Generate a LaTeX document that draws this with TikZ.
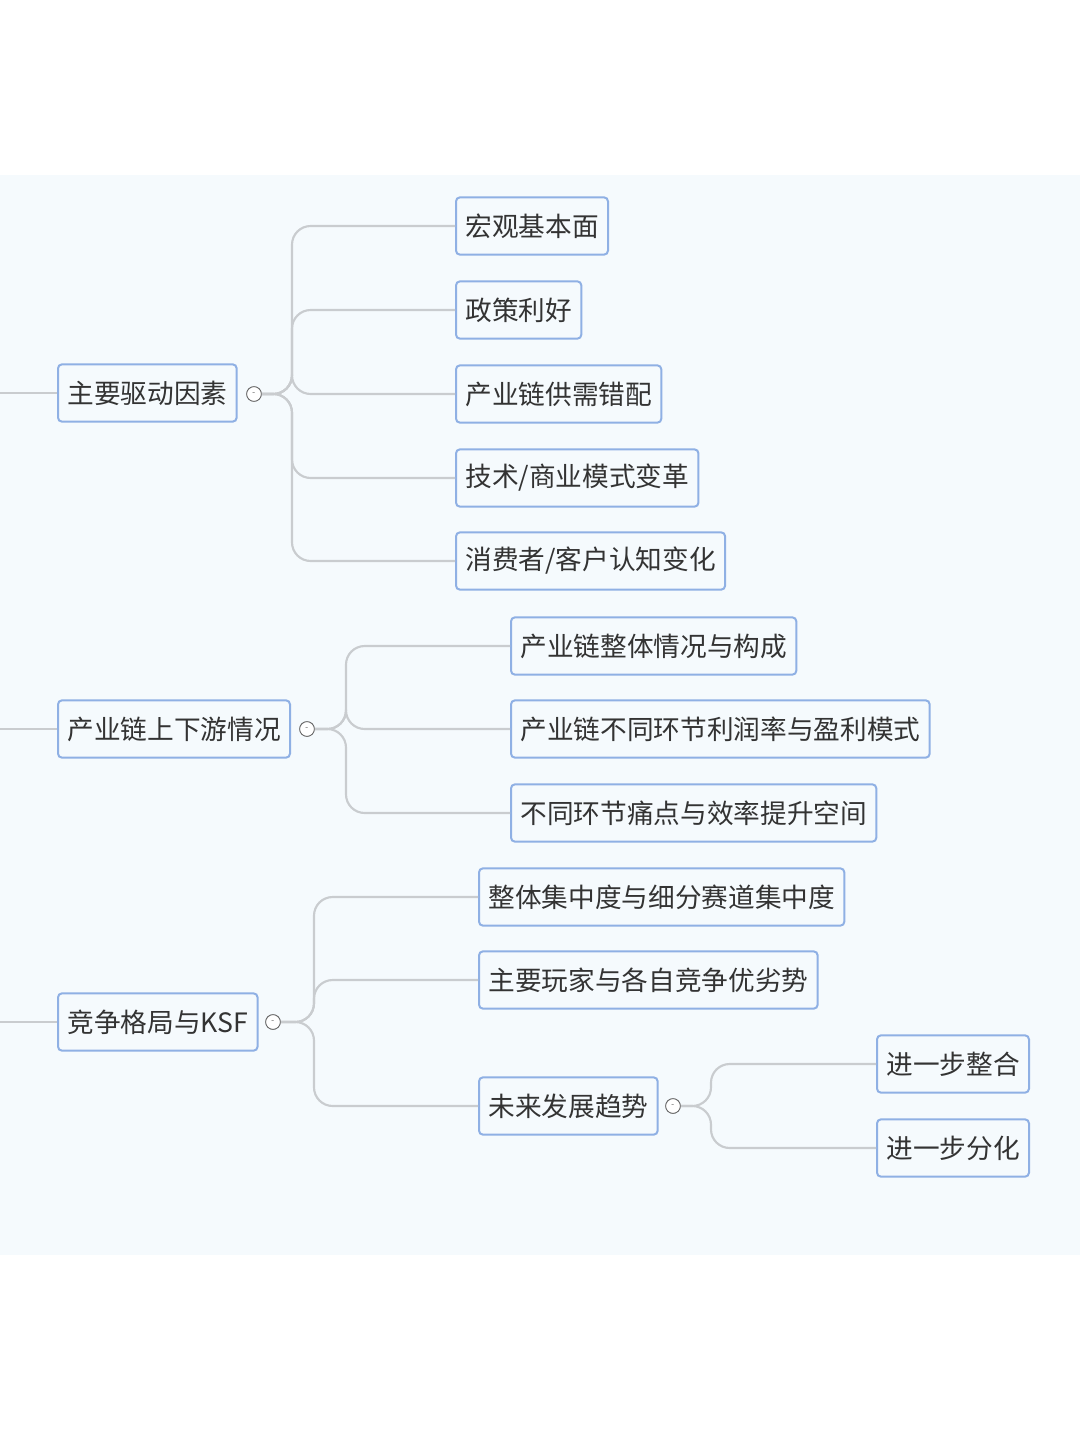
\documentclass[tikz,border=0pt]{standalone}
\usepackage{fontspec}
\newfontfamily\cjk{Noto Sans CJK SC}
\definecolor{boxline}{HTML}{8FB0E4}
\definecolor{linkgray}{HTML}{C9CCCF}
\definecolor{paper}{HTML}{F5FAFD}

\tikzset{
  topic/.style={draw=boxline, line width=1.5pt, rounded corners=3pt, fill=paper,
    anchor=west, minimum height=43pt, inner xsep=7pt, font=\cjk\fontsize{20}{22}\selectfont, text=black!80},
  fold/.style={circle, draw=black!60, line width=0.6pt, fill=white, inner sep=0pt, minimum size=11pt,
    font=\tiny, text=black!70},
  link/.style={draw=linkgray, line width=1.6pt, rounded corners=14pt}
}

\begin{document}
\begin{tikzpicture}[x=0.75pt,y=-0.75pt]
\useasboundingbox (0,0) rectangle (1080,1439);
\fill[paper] (0,175) rectangle (1080,1255);

% first branch
\node[topic] (drive) at (57,393) {主要驱动因素};
\node[fold] (fdrive) at (254,394) {-};
\node[topic] (macro) at (455,226) {宏观基本面};
\node[topic] (policy) at (455,310) {政策利好};
\node[topic] (supply) at (455,394) {产业链供需错配};
\node[topic] (tech) at (455,478) {技术/商业模式变革};
\node[topic] (cust) at (455,561) {消费者/客户认知变化};
\coordinate (in1) at (0,393);
\draw[link] (in1) -- (drive.west);
\foreach \k in {macro,policy,supply,tech,cust}
  \draw[link] (fdrive.east) -- (292,394) |- (\k.west);

% second branch
\node[topic] (chain) at (57,729) {产业链上下游情况};
\node[fold] (fchain) at (307,729) {-};
\node[topic] (whole) at (510,646) {产业链整体情况与构成};
\node[topic] (margin) at (510,729) {产业链不同环节利润率与盈利模式};
\node[topic] (pain) at (510,813) {不同环节痛点与效率提升空间};
\coordinate (in2) at (0,729);
\draw[link] (in2) -- (chain.west);
\foreach \k in {whole,margin,pain}
  \draw[link] (fchain.east) -- (346,729) |- (\k.west);

% third branch
\node[topic] (comp) at (57,1022) {竞争格局与KSF};
\node[fold] (fcomp) at (273,1022) {-};
\node[topic] (conc) at (478,897) {整体集中度与细分赛道集中度};
\node[topic] (player) at (478,980) {主要玩家与各自竞争优劣势};
\node[topic] (trend) at (478,1106) {未来发展趋势};
\node[fold] (ftrend) at (673,1106) {-};
\node[topic] (merge) at (876,1064) {进一步整合};
\node[topic] (split) at (876,1148) {进一步分化};
\coordinate (in3) at (0,1022);
\draw[link] (in3) -- (comp.west);
\foreach \k in {conc,player,trend}
  \draw[link] (fcomp.east) -- (314,1022) |- (\k.west);
\foreach \k in {merge,split}
  \draw[link] (ftrend.east) -- (711,1106) |- (\k.west);

% redraw fold marks on top
\foreach \f in {fdrive,fchain,fcomp,ftrend}
  \node[fold] at (\f) {-};
\end{tikzpicture}
\end{document}
